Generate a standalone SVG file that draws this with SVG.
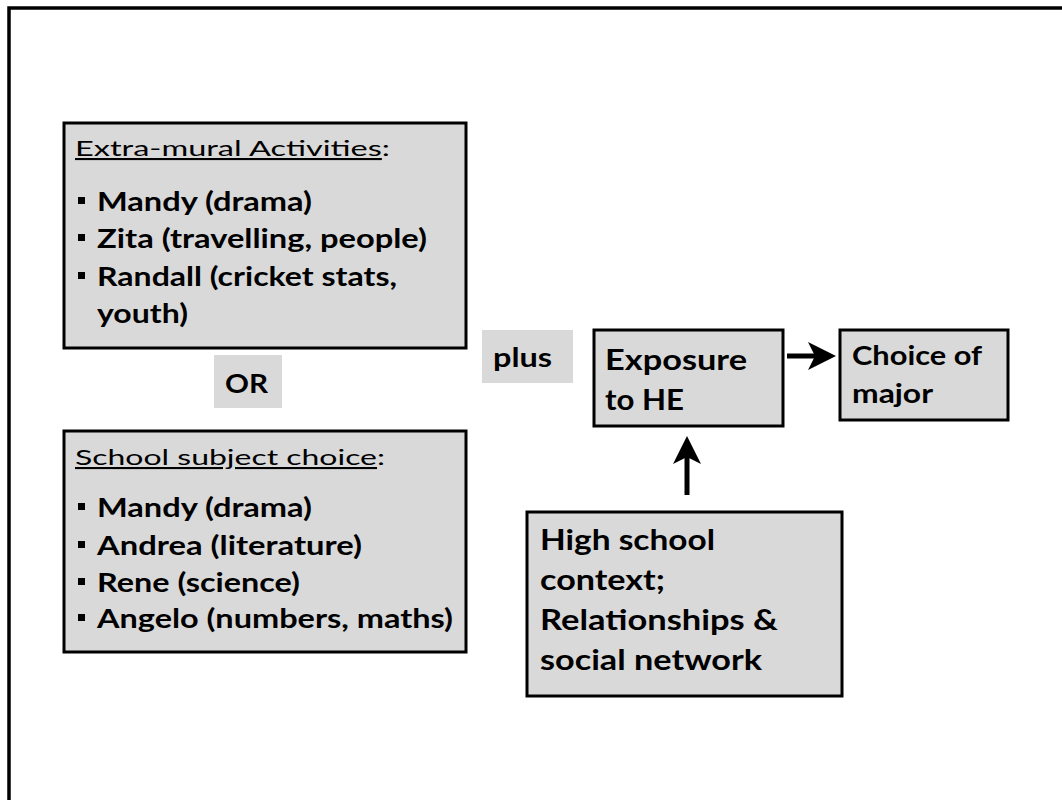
<svg xmlns="http://www.w3.org/2000/svg" width="1062" height="800" viewBox="0 0 1062 800">
<style>
.box{fill:#d9d9d9;stroke:#000;stroke-width:3}
.lbl{fill:#d9d9d9;stroke:none}
text{font-family:Lato,"Liberation Sans",sans-serif;fill:#000}
.hd{font-size:21px;font-weight:normal}
.li{font-size:26px;font-weight:bold}
.big{font-size:29px;font-weight:bold}
.mid{font-size:26px;font-weight:bold}
.bul{fill:#000}
.conn{stroke:#000;stroke-width:5;fill:none}
</style>
<defs>
<marker id="ah" markerUnits="userSpaceOnUse" viewBox="0 0 28 28" markerWidth="28" markerHeight="28" refX="8" refY="14" orient="auto">
<path d="M0,0 L28,14 L0,28 L7,14 Z" fill="#000"/>
</marker>
</defs>
<rect width="1062" height="800" fill="#fff"/>
<g id="frame">
<path d="M9,800 L9,8 L1062,8" fill="none" stroke="#000" stroke-width="3.5"/>
</g>
<g id="extra-mural">
<rect class="box" x="64" y="123" width="402" height="225"/>
<text class="hd" x="75" y="156" textLength="315" lengthAdjust="spacingAndGlyphs"><tspan text-decoration="underline">Extra-mural Activities</tspan>:</text>
<rect class="bul" x="78" y="197" width="7" height="7"/>
<text class="li" x="97" y="211" textLength="215" lengthAdjust="spacingAndGlyphs">Mandy (drama)</text>
<rect class="bul" x="78" y="234" width="7" height="7"/>
<text class="li" x="97" y="248" textLength="330" lengthAdjust="spacingAndGlyphs">Zita (travelling, people)</text>
<rect class="bul" x="78" y="272" width="7" height="7"/>
<text class="li" x="97" y="286" textLength="300" lengthAdjust="spacingAndGlyphs">Randall (cricket stats,</text>
<text class="li" x="97" y="323" textLength="91" lengthAdjust="spacingAndGlyphs">youth)</text>
</g>
<g id="or">
<rect class="lbl" x="214" y="355" width="68" height="53"/>
<text class="li" x="225" y="393" textLength="43" lengthAdjust="spacingAndGlyphs">OR</text>
</g>
<g id="school-subject">
<rect class="box" x="64" y="431" width="402" height="221"/>
<text class="hd" x="75" y="465" textLength="310" lengthAdjust="spacingAndGlyphs"><tspan text-decoration="underline">School subject choice</tspan>:</text>
<rect class="bul" x="78" y="503" width="7" height="7"/>
<text class="li" x="97" y="517" textLength="215" lengthAdjust="spacingAndGlyphs">Mandy (drama)</text>
<rect class="bul" x="78" y="541" width="7" height="7"/>
<text class="li" x="97" y="555" textLength="265" lengthAdjust="spacingAndGlyphs">Andrea (literature)</text>
<rect class="bul" x="78" y="578" width="7" height="7"/>
<text class="li" x="97" y="592" textLength="203" lengthAdjust="spacingAndGlyphs">Rene (science)</text>
<rect class="bul" x="78" y="614" width="7" height="7"/>
<text class="li" x="97" y="628" textLength="356" lengthAdjust="spacingAndGlyphs">Angelo (numbers, maths)</text>
</g>
<g id="plus">
<rect class="lbl" x="482" y="330" width="91" height="53"/>
<text class="li" x="493" y="367" textLength="59" lengthAdjust="spacingAndGlyphs">plus</text>
</g>
<g id="exposure">
<rect class="box" x="594" y="330" width="189" height="96"/>
<text class="big" x="605" y="370" textLength="142" lengthAdjust="spacingAndGlyphs">Exposure</text>
<text class="big" x="605" y="410" textLength="79" lengthAdjust="spacingAndGlyphs">to HE</text>
</g>
<g id="choice">
<rect class="box" x="840" y="330" width="168" height="90"/>
<text class="mid" x="852" y="365" textLength="130" lengthAdjust="spacingAndGlyphs">Choice of</text>
<text class="mid" x="852" y="403" textLength="81" lengthAdjust="spacingAndGlyphs">major</text>
</g>
<g id="high-school">
<rect class="box" x="527" y="512" width="315" height="184"/>
<text class="big" x="540" y="550" textLength="175" lengthAdjust="spacingAndGlyphs">High school</text>
<text class="big" x="540" y="590" textLength="125" lengthAdjust="spacingAndGlyphs">context;</text>
<text class="big" x="540" y="630" textLength="238" lengthAdjust="spacingAndGlyphs">Relationships &amp;</text>
<text class="big" x="540" y="670" textLength="222" lengthAdjust="spacingAndGlyphs">social network</text>
</g>
<g id="connectors">
<line class="conn" x1="787" y1="356" x2="816" y2="356" marker-end="url(#ah)"/>
<line class="conn" x1="687" y1="495" x2="687" y2="456" marker-end="url(#ah)"/>
</g>
</svg>
